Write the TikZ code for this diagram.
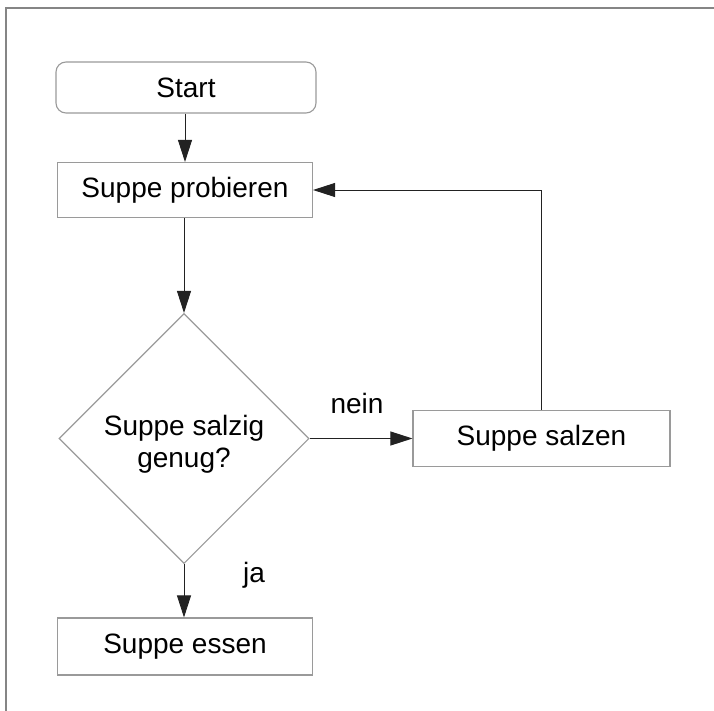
\documentclass[tikz,border=0pt]{standalone}
\usepackage{fontspec}
\setmainfont{Liberation Sans}
\usetikzlibrary{shapes.geometric,arrows.meta}
\newcommand\figfont{\fontsize{28}{33}\selectfont}
\definecolor{boxgray}{HTML}{9A9A9A}
\definecolor{framegray}{HTML}{858585}
\definecolor{linecol}{HTML}{222222}
\begin{document}
\begin{tikzpicture}[x=1pt,y=-1pt,
  box/.style={draw=boxgray, line width=1.1pt, minimum width=255pt, minimum height=55pt, inner sep=0pt, font=\figfont, text=black},
  startbox/.style={box, rounded corners=10pt, minimum width=260pt, minimum height=51pt},
  decision/.style={diamond, draw=boxgray, line width=1.1pt, minimum width=250pt, minimum height=250pt, inner sep=0pt, aspect=1},
  arr/.style={draw=linecol, line width=0.9pt, -{Triangle[length=22pt,width=14pt]}},
  lbl/.style={font=\figfont, text=black, inner sep=0pt}]
\useasboundingbox (0,0) rectangle (714,711);
\draw[framegray, line width=1.5pt] (6,711) -- (6,8) -- (714,8);
\node[startbox] (start) at (186,87.5) {Start};
\node[box] (prob) at (185,190) {Suppe probieren};
\node[decision, label={[lbl, align=center, yshift=-6pt]center:Suppe salzig\\[-1pt]genug?}] (dia) at (184,438.5) {};
\node[box, minimum width=257pt, minimum height=56pt] (salz) at (541.5,438.5) {Suppe salzen};
\node[box, minimum height=57pt] (essen) at (185,646.5) {Suppe essen};
\node[lbl] (nein) at (357,403) {nein};
\node[lbl] (ja) at (254,575) {ja};
\draw[arr] (start.south -| prob.north) -- (prob.north);
\draw[arr] (prob.south -| dia.north) -- (dia.north);
\draw[arr] (dia.east) -- (salz.west);
\draw[arr] (salz.north) |- (prob.east);
\draw[arr] (dia.south) -- (dia.south |- essen.north);
\end{tikzpicture}
\end{document}
